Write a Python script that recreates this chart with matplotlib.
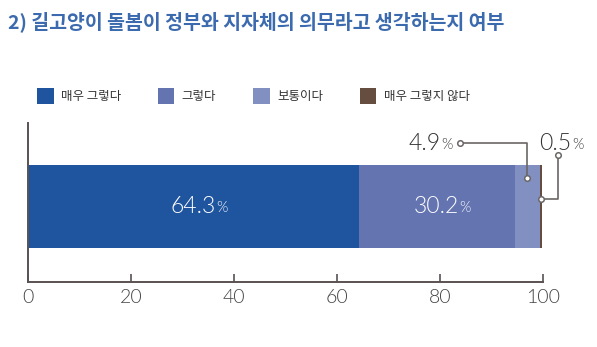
import matplotlib.pyplot as plt

plt.rcParams['font.family'] = ['Noto Sans CJK KR', 'DejaVu Sans']

# --- DATA ---
TITLE = "2) 길고양이 돌봄이 정부와 지자체의 의무라고 생각하는지 여부"
categories = ["매우 그렇다", "그렇다", "보통이다", "매우 그렇지 않다"]
values = [64.3, 30.2, 4.9, 0.5]
colors = ["#1f559f", "#6474b0", "#8190c0", "#654d3f"]
xticks = [0, 20, 40, 60, 80, 100]

W, H = 597, 347
fig = plt.figure(figsize=(W / 100, H / 100), dpi=100)
# axes placed in pixel terms: x 28..543, y 123..282
ax = fig.add_axes([28 / W, (H - 282) / H, (543 - 28) / W, (282 - 123) / H])
ax.set_xlim(0, 100)
ax.set_ylim(0, 1)
renderer = fig.canvas.get_renderer()

NUM_FONT = ['Lato', 'DejaVu Sans']
NUM_WEIGHT = 300


def value_label(x, y, v, ha="center", color="#333333"):
    """number in big type followed by a small % sign, anchored at (x, y) in data coords"""
    t1 = ax.text(x, y, f"{v:.1f}", fontsize=16.5, family=NUM_FONT, fontweight=NUM_WEIGHT,
                 color=color, ha="left", va="center", clip_on=False)
    t2 = ax.text(x, y, "%", fontsize=10.5, family=NUM_FONT, fontweight=NUM_WEIGHT,
                 color=color, ha="left", va="center", clip_on=False)
    w1 = t1.get_window_extent(renderer).width
    w2 = t2.get_window_extent(renderer).width
    gap = 0.5
    total = w1 + gap + w2
    px, py = ax.transData.transform((x, y))
    if ha == "center":
        px -= total / 2
    elif ha == "right":
        px -= total
    inv = ax.transData.inverted()
    t1.set_position(inv.transform((px, py)))
    t2.set_position(inv.transform((px + w1 + gap, py - 1.5)))


bar_y, bar_h = 0.475, 0.522
left = 0
segs = []
for cat, v, c in zip(categories, values, colors):
    ax.barh(bar_y, v, height=bar_h, left=left, color=c, label=cat)
    segs.append((left, v))
    left += v

# labels inside the two large segments
for (l, v) in segs[:2]:
    value_label(l + v / 2 + 1, bar_y, v, color="white")

# callouts for the small segments
line_c = "#6b6666"
mk = dict(marker="o", markersize=4, markerfacecolor="white", markeredgecolor=line_c,
          markeredgewidth=1.1, clip_on=False, zorder=5)

# 4.9%
l, v = segs[2]
sx = l + v / 2
ax.plot([83.9, sx, sx], [0.874, 0.874, 0.654], color=line_c, lw=1.2, clip_on=False, zorder=4)
ax.plot([83.9], [0.874], **mk)
ax.plot([sx], [0.654], **mk)
value_label(82.5, 0.874, v, ha="right")

# 0.5%
l, v = segs[3]
ex = l + v / 2
ax.plot([102.9, 102.9, ex], [0.799, 0.522, 0.522], color=line_c, lw=1.2, clip_on=False, zorder=4)
ax.plot([102.9], [0.799], **mk)
ax.plot([ex], [0.522], **mk)
value_label(103.6, 0.874, v, ha="center")

# axes styling
for s in ["top", "right"]:
    ax.spines[s].set_visible(False)
for s in ["left", "bottom"]:
    ax.spines[s].set_color("#5a5252")
    ax.spines[s].set_linewidth(1.4)
ax.set_yticks([])
ax.set_xticks(xticks)
ax.set_xticklabels([str(t) for t in xticks], family=NUM_FONT, fontweight=NUM_WEIGHT)
ax.tick_params(axis="x", direction="in", length=6, width=1.2, color="#5a5252",
               labelsize=14, labelcolor="#444444", pad=5)

# title
fig.text(8 / W, (H - 22) / H, TITLE, fontsize=14, fontweight="bold", color="#3b6aae",
         ha="left", va="center")

# legend
handles, labels = ax.get_legend_handles_labels()
fig.legend(handles, labels, loc="center left", bbox_to_anchor=(26 / W, (H - 96) / H),
           ncol=4, frameon=False, fontsize=9, handlelength=1.3, handleheight=1.5,
           handletextpad=0.6, columnspacing=2.95, labelcolor="#333333")

fig.savefig("out.png", dpi=100)
